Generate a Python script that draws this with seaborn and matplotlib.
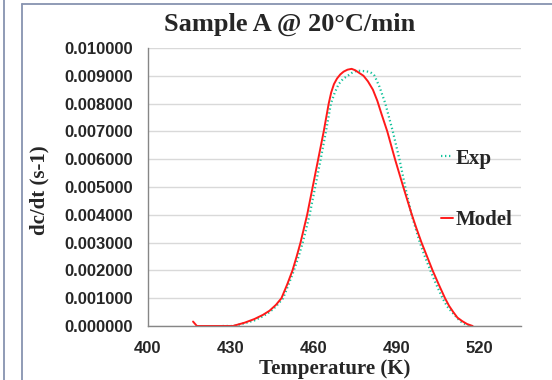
import matplotlib
matplotlib.use("Agg")
import matplotlib.pyplot as plt
import seaborn as sns
import pandas as pd
from matplotlib.lines import Line2D

# ---- data ----
exp_T = [427, 431, 435, 438.5, 441.6, 444, 446.3, 448.9, 450.9, 452.8, 454.5, 456,
         458.5, 460.5, 462.5, 464.4, 466.2, 467.6, 469, 470.7, 472.3, 473.7, 475,
         476.5, 478, 479.5, 480.7, 482, 483.8, 485.9, 488.6, 491.0, 493.1,
         495.4, 496.9, 498.4, 500.2, 502.2, 504.3, 506.6, 508.3, 510, 513, 516]
exp_v = [0.0, 0.0, 0.0001, 0.0002, 0.00035, 0.0005, 0.0007, 0.001, 0.0015, 0.002,
         0.0025, 0.003, 0.004, 0.005, 0.006, 0.007, 0.008, 0.0084, 0.0087, 0.0089,
         0.009, 0.0091, 0.00916, 0.00918, 0.00917, 0.00915, 0.00911, 0.009, 0.0086,
         0.008, 0.007, 0.006, 0.005, 0.004, 0.0035, 0.003, 0.0025, 0.002,
         0.0015, 0.001, 0.0007, 0.0005, 0.00017, 0.0]
model_T = [416.3, 417.7, 425, 430.7, 435, 438.5, 441.6, 444, 446.3, 448.3, 450.4,
           452.3, 453.8, 455.2, 456.4, 457.6, 459.6, 461.6, 463.6, 465.4, 466.3,
           467.3, 468.4, 469.6, 470.8, 472.2, 473.7, 475, 476.5, 478, 479.6, 481.4,
           483.0, 484.6, 486.6, 489.4, 492.4, 495.5, 497.2, 499.0,
           501, 503, 505.2, 507.5, 509, 510.5, 512, 513.8, 515.5, 517.5]
model_v = [0.00016, 0.0, 0.0, 0.0, 0.00012, 0.00025, 0.0004, 0.00055, 0.00076,
           0.001, 0.0015, 0.002, 0.0025, 0.003, 0.0035, 0.004, 0.005, 0.006, 0.007,
           0.008, 0.0084, 0.0087, 0.0089, 0.00905, 0.00915, 0.00922, 0.00925,
           0.0092, 0.0091, 0.009, 0.0088, 0.0085, 0.0081, 0.0076, 0.007, 0.006,
           0.005, 0.004, 0.0035, 0.003, 0.0025, 0.002, 0.0015, 0.001,
           0.00072, 0.0005, 0.0003, 0.00017, 0.00007, 0.0]
x_ticks = [400, 430, 460, 490, 520]
y_ticks = [0.000, 0.001, 0.002, 0.003, 0.004, 0.005, 0.006, 0.007, 0.008, 0.009, 0.010]
title = "Sample A @ 20°C/min"
xlabel = "Temperature (K)"
ylabel = "dc/dt (s-1)"
series_names = ["Exp", "Model"]

exp_color = "#14c39c"
model_color = "#ff1a1a"

sns.set_theme(style="white")
plt.rcParams["font.family"] = ["Liberation Sans", "DejaVu Sans"]

fig = plt.figure(figsize=(5.52, 3.8), dpi=100)
fig.patch.set_facecolor("white")

# frame lines
frame_c = "#8793b0"
fig.add_artist(Line2D([3.5 / 552, 3.5 / 552], [0, 1], color=frame_c, lw=1.3))
fig.add_artist(Line2D([21.5 / 552, 21.5 / 552], [0, 1 - 3.5 / 380], color=frame_c, lw=1.3))
fig.add_artist(Line2D([21.5 / 552, 1], [1 - 3.5 / 380, 1 - 3.5 / 380], color=frame_c, lw=1.3))

ax = fig.add_axes([148 / 552, (380 - 326) / 380, (521 - 148) / 552, (326 - 48) / 380])

df_exp = pd.DataFrame({"T": exp_T, "v": exp_v})
df_mod = pd.DataFrame({"T": model_T, "v": model_v})
sns.lineplot(data=df_exp, x="T", y="v", ax=ax, color=exp_color, lw=1.6,
             linestyle=(0, (0.6, 1.2)), sort=False, label=series_names[0])
sns.lineplot(data=df_mod, x="T", y="v", ax=ax, color=model_color, lw=1.4,
             sort=False, label=series_names[1])

ax.set_xlim(400, 535)
ax.set_ylim(0, 0.010)
ax.set_xticks(x_ticks)
ax.set_yticks(y_ticks)
ax.set_xticklabels([str(t) for t in x_ticks], fontweight="bold", fontsize=12)
ax.set_yticklabels([f"{t:.6f}" for t in y_ticks], fontweight="bold", fontsize=12)
ax.tick_params(axis="y", length=0, pad=11)
ax.tick_params(axis="x", length=0, pad=11)
ax.grid(axis="y", color="#d9d9d9", lw=1)
ax.grid(axis="x", visible=False)
for s in ["top", "right"]:
    ax.spines[s].set_visible(False)
for s in ["left", "bottom"]:
    ax.spines[s].set_color("#868686")
    ax.spines[s].set_linewidth(1)

serif = ["Liberation Serif", "DejaVu Serif"]
ax.set_xlabel("")
ax.set_ylabel("")
fig.text(335 / 552, 1 - 369 / 380, xlabel, ha="center", va="center",
         fontfamily=serif, fontweight="bold", fontsize=15)
fig.text(39 / 552, 1 - 190 / 380, ylabel, ha="center", va="center", rotation=90,
         fontfamily=serif, fontweight="bold", fontsize=15)
fig.text(290 / 552, 1 - 24 / 380, title, ha="center", va="center",
         fontfamily=serif, fontweight="bold", fontsize=19)

leg = ax.legend(loc="center left", bbox_to_anchor=(441 / 552, 1 - 189.5 / 380),
                bbox_transform=fig.transFigure, frameon=False,
                prop={"family": serif, "weight": "bold", "size": 15},
                handlelength=0.58, handletextpad=0.1, labelspacing=2.0,
                borderpad=0, borderaxespad=0)

fig.savefig("out.png", dpi=100, facecolor="white")
